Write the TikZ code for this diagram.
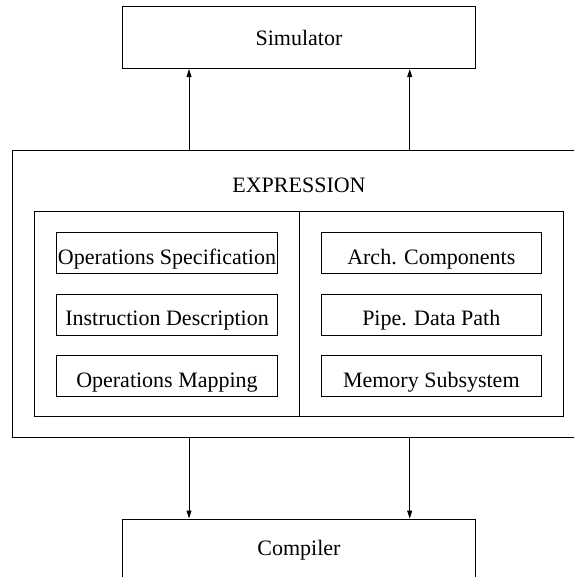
\documentclass[tikz,border=0pt]{standalone}
\usepackage{fontspec}
\setmainfont{Liberation Serif}
\usetikzlibrary{arrows.meta}
\begin{document}
\begin{tikzpicture}[x=1pt,y=-1pt,
  every node/.style={font=\fontsize{22}{26}\selectfont, inner sep=0pt},
  frame/.style={draw, line width=0.9pt, rectangle},
  bigbox/.style={frame, minimum width=353pt, minimum height=62pt},
  partbox/.style={frame, minimum width=220.6pt, minimum height=41pt,
                  text height=22.6pt, text depth=0pt},
  arr/.style={draw, line width=0.9pt, -{Triangle[length=8pt,width=5pt]}}]
  \useasboundingbox (0,0) rectangle (574,577);
  \clip (0,0) rectangle (574,577);

  % top and bottom tools
  \node[bigbox] (sim) at (299,37.7) {Simulator};
  \node[bigbox] (comp) at (299,550) {Compiler};

  % description frame
  \node[frame, minimum width=573.4pt, minimum height=286.7pt] (outer) at (299,293.65) {};
  \node (title) at (299,185) {EXPRESSION};
  \node[frame, minimum width=529.4pt, minimum height=205pt] (inner) at (299,314.2) {};
  \draw[line width=0.9pt] (inner.north) -- (inner.south);

  % left column
  \node[partbox] (ops)  at (167,253)   {Operations Specification};
  \node[partbox] (ins)  at (167,314.5) {Instruction Description};
  \node[partbox] (map)  at (167,375.8) {Operations Mapping};
  % right column
  \node[partbox] (arch) at (431.3,253)   {Arch. Components};
  \node[partbox] (pipe) at (431.3,314.5) {Pipe. Data Path};
  \node[partbox] (mem)  at (431.3,375.8) {Memory Subsystem};

  % connectors
  \coordinate (la) at (189,0);
  \coordinate (ra) at (409.7,0);
  \draw[arr] (outer.north -| la) -- (sim.south -| la);
  \draw[arr] (outer.north -| ra) -- (sim.south -| ra);
  \draw[arr] (outer.south -| la) -- (comp.north -| la);
  \draw[arr] (outer.south -| ra) -- (comp.north -| ra);
\end{tikzpicture}
\end{document}
